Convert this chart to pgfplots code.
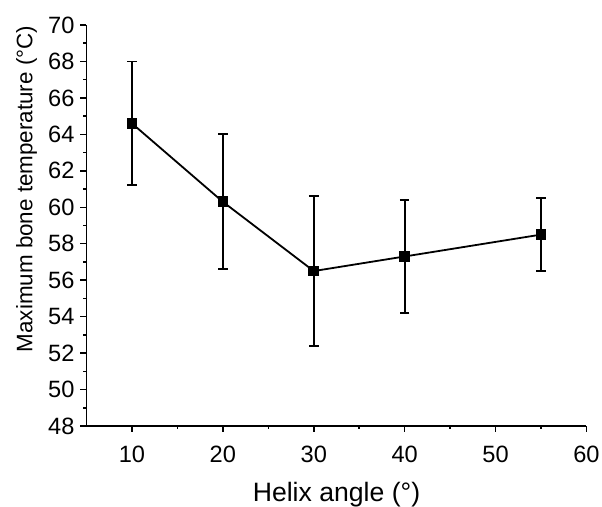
\documentclass[border=0pt]{standalone}
\usepackage{pgfplots}
\pgfplotsset{compat=1.18}
\usepackage{fontspec}
\setmainfont{Liberation Sans}
\begin{document}
\begin{tikzpicture}
% page frame: same margins as the reference
\useasboundingbox (-43.25pt,-40.5pt) rectangle (257.75pt,213pt);
\begin{axis}[
  at={(0,0)}, anchor=south west,
  scale only axis,
  width=250pt, height=200.5pt,
  font=\fontsize{11.8}{14}\selectfont,
  /pgf/number format/assume math mode=true,
  xmin=5, xmax=60, ymin=48, ymax=70,
  axis lines*=left,
  axis line style={line width=0.75pt, -},
  xtick={10,20,...,60}, ytick={48,50,...,70},
  minor xtick={15,25,...,55}, minor ytick={49,51,...,69},
  tick align=outside,
  major tick length=3pt, minor tick length=1.5pt,
  tick style={black, line width=0.75pt},
  xticklabel style={yshift=-3.5pt},
  yticklabel style={xshift=0.5pt},
  xlabel={Helix angle (°)},
  ylabel={Maximum bone temperature (°C)},
  xlabel style={font=\fontsize{13.3}{15}\selectfont,
    at={(axis description cs:0.5,0)}, anchor=base, yshift=-38pt},
  ylabel style={font=\fontsize{11.2}{13}\selectfont,
    at={(axis description cs:-0.108,0.591)}, anchor=base},
]
\addplot[black, line width=0.9pt, mark=square*, mark size=2.2pt,
  error bars/.cd, y dir=both, y explicit,
  error bar style={line width=0.9pt},
  error mark options={rotate=90, mark size=2.4pt, line width=0.9pt}]
  coordinates {
  (10,64.6) +- (0,3.4)
  (20,60.3) +- (0,3.7)
  (30,56.5) +- (0,4.1)
  (40,57.3) +- (0,3.1)
  (55,58.5) +- (0,2.0)
  };
\end{axis}
\end{tikzpicture}
\end{document}
